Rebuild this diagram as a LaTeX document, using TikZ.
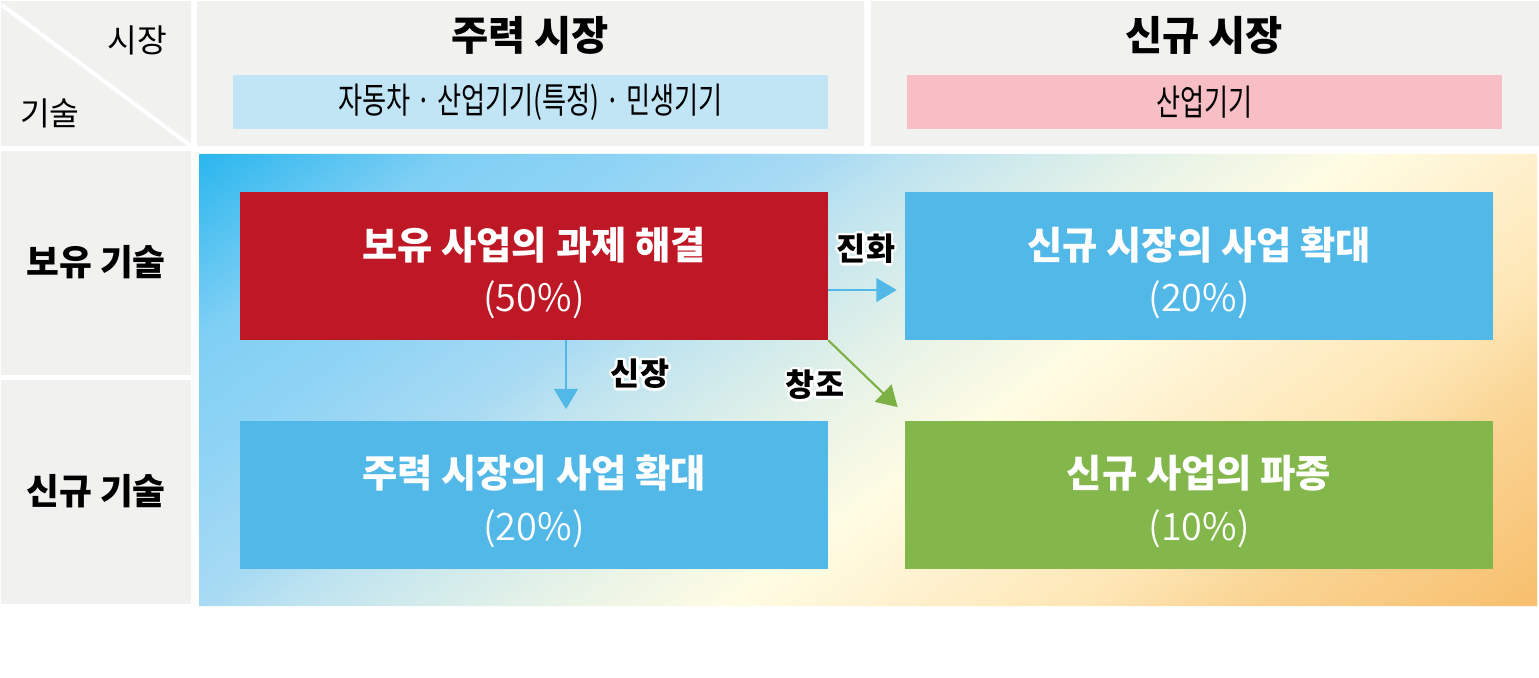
\documentclass[tikz,border=0pt]{standalone}
\usepackage{fontspec}
\setmainfont{Noto Sans CJK KR}
\newfontfamily\narrowkr{Noto Sans CJK KR}[FakeStretch=0.735]
\newfontfamily\lightkr{Noto Sans CJK KR DemiLight}
\usepackage[copies]{contour}
\contourlength{1.4pt}
\usepackage{tikz}
\usetikzlibrary{arrows.meta, positioning, calc}
\definecolor{cellgray}{HTML}{F1F1F0}
\definecolor{barblue}{HTML}{C2E5F5}
\definecolor{barpink}{HTML}{F7BFC5}
\definecolor{corered}{HTML}{BE1826}
\definecolor{skyblue}{HTML}{52B8E8}
\definecolor{leafgreen}{HTML}{84B74B}
\definecolor{arrowgreen}{HTML}{7DB146}
% gradient stops of the field
\definecolor{g0}{HTML}{2AB6EE}
\definecolor{g1}{HTML}{7FCFF4}
\definecolor{g2}{HTML}{8DD3F5}
\definecolor{g3}{HTML}{A8DAF3}
\definecolor{g4}{HTML}{BDE3F0}
\definecolor{g5}{HTML}{E3F1E8}
\definecolor{g6}{HTML}{FFFCE3}
\definecolor{g7}{HTML}{FEF1CF}
\definecolor{g8}{HTML}{FEE6B5}
\definecolor{g9}{HTML}{FAD697}
\definecolor{g10}{HTML}{F7BE6C}
\pgfdeclarehorizontalshading{fieldshade}{100bp}{color(0bp)=(g0); color(25bp)=(g0); color(31.5bp)=(g1); color(35.5bp)=(g2); color(41bp)=(g3); color(43.2bp)=(g4); color(49bp)=(g5); color(54.5bp)=(g6); color(58.5bp)=(g7); color(63.5bp)=(g8); color(67bp)=(g9); color(75bp)=(g10); color(100bp)=(g10)}
\tikzstyle{bigbox} = [rectangle, minimum width=117.6mm, minimum height=29.6mm, inner sep=0pt]
\tikzstyle{boxtitle} = [text=white, font=\bfseries\fontsize{21.8}{26}\selectfont]
\tikzstyle{boxpct} = [text=white, font=\lightkr\fontsize{21.5}{26}\selectfont]
\tikzstyle{hdr} = [text=black, font=\bfseries\fontsize{23}{27}\selectfont]
\tikzstyle{bar} = [rectangle, minimum width=119mm, minimum height=10.8mm, inner sep=0pt, font=\narrowkr\fontsize{20.3}{24}\selectfont]
\tikzstyle{rowlbl} = [text=black, font=\bfseries\fontsize{20.3}{24}\selectfont]
\tikzstyle{axislbl} = [text=black, font=\fontsize{18.4}{22}\selectfont]
\tikzstyle{arrowlbl} = [text=black, font=\bfseries\fontsize{18}{22}\selectfont]
\tikzstyle{flow} = [line width=1.2pt, -{Triangle[length=11.5pt, width=13.5pt]}]

\begin{document}
\begin{tikzpicture}[x=0.2mm, y=-0.2mm]
    \useasboundingbox (0,0) rectangle (1539,678);
    \fill[white] (0,0) rectangle (1539,678);

    % Grey cells
    \fill[cellgray] (1,1) rectangle (191,146);
    \fill[cellgray] (197,1) rectangle (864,146);
    \fill[cellgray] (871,1) rectangle (1539,146);
    \fill[cellgray] (1,151) rectangle (191,375);
    \fill[cellgray] (1,380) rectangle (191,604);
    \draw[white, line width=2.4pt] (2,5) -- (191,146);

    % Corner labels
    \node[axislbl] (market) at (137,40) {시장};
    \node[axislbl] (tech) at (50,113) {기술};

    % Market headers
    \node[hdr] (mainhdr) at (530,35) {주력 시장};
    \node[bar, fill=barblue] (mainbar) at (530.5,102) {자동차 · 산업기기(특정) · 민생기기};
    \node[hdr] (newhdr) at (1204,35) {신규 시장};
    \node[bar, fill=barpink] (newbar) at (1204.5,102) {산업기기};

    % Technology rows
    \node[rowlbl] (owntech) at (96,262) {보유 기술};
    \node[rowlbl] (newtech) at (96,491) {신규 기술};

    % Gradient field (slanted horizontal shading)
    \begin{scope}
        \clip (199,154) rectangle (1537,606);
        \begin{scope}[transform canvas={xslant=1.394}]
            \shade[shading=fieldshade] (413.7,154) rectangle (2381.8,606);
        \end{scope}
    \end{scope}

    % Quadrant boxes
    \node[bigbox, fill=corered] (red) at (534,266) {};
    \node[boxtitle] (redtitle) at ($(red.center)+(0,-21)$) {보유 사업의 과제 해결};
    \node[boxpct] (redpct) at ($(red.center)+(0,34)$) {(50\%)};

    \node[bigbox, fill=skyblue] (blueR) at (1199,266) {};
    \node[boxtitle] (bluertitle) at ($(blueR.center)+(0,-21)$) {신규 시장의 사업 확대};
    \node[boxpct] (bluerpct) at ($(blueR.center)+(0,34)$) {(20\%)};

    \node[bigbox, fill=skyblue] (blueL) at (534,494.5) {};
    \node[boxtitle] (blueltitle) at ($(blueL.center)+(0,-21)$) {주력 시장의 사업 확대};
    \node[boxpct] (bluelpct) at ($(blueL.center)+(0,34)$) {(20\%)};

    \node[bigbox, fill=leafgreen] (green) at (1199,494.5) {};
    \node[boxtitle] (greentitle) at ($(green.center)+(0,-21)$) {신규 사업의 파종};
    \node[boxpct] (greenpct) at ($(green.center)+(0,34)$) {(10\%)};

    % Connections
    \draw[flow, skyblue] ($(red.east)+(0,24)$) -- ($(blueR.west)+(-8,24)$);
    \draw[flow, skyblue] ($(red.south)+(32,0)$) -- ($(blueL.north)+(32,-11)$);
    \draw[flow, arrowgreen] (red.south east) -- ($(green.north west)+(-7,-13)$);

    \node[arrowlbl] (evolve) at (866,250) {\contour{white}{진화}};
    \node[arrowlbl] (grow) at (640,375) {\contour{white}{신장}};
    \node[arrowlbl] (create) at (815,386) {\contour{white}{창조}};
\end{tikzpicture}
\end{document}
